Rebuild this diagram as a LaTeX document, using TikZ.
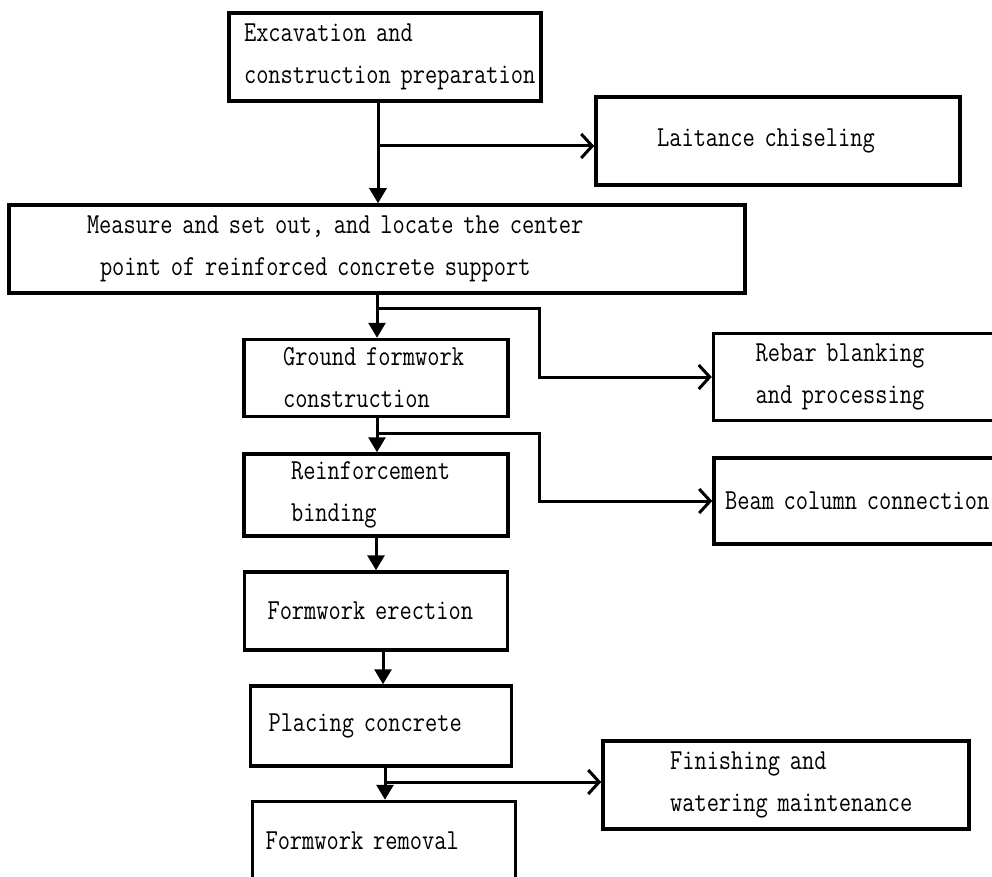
\documentclass[tikz,border=0pt]{standalone}
\usepackage{fontspec}
\newfontfamily\flowfont[FakeStretch=0.82]{Latin Modern Mono}
\usetikzlibrary{arrows.meta}
\newcommand{\flowline}[2]{\hspace*{#1pt}\mbox{#2}}

\begin{document}
\begin{tikzpicture}
[x=1pt,y=-1pt,
  boxDecorate/.style={draw,line width=3.5pt,rectangle,inner xsep=0pt,inner ysep=0pt,
    align=left,font=\flowfont\fontsize{29}{42}\selectfont},
  downDecorate/.style={line width=3pt,-{Triangle[length=15pt,width=17pt]}},
  sideDecorate/.style={line width=3pt,-{Straight Barb[length=11pt,width=24pt,line width=3pt]}}]
\useasboundingbox (0,0) rectangle (992,877);
%% boxes of the flow
\foreach \nodename/\x/\y/\w/\h/\txt in {
  exc/385/57/312/88/{\flowline{15}{Excavation and}\\\flowline{15}{construction preparation}},
  lai/778/141/364/88/{\flowline{61}{Laitance chiseling}},
  mea/377/249/736/88/{\flowline{78}{Measure and set out, and locate the center}\\\flowline{91}{point of reinforced concrete support}},
  gfc/376/378/264/77/{\flowline{39}{Ground formwork}\\\flowline{39}{construction}},
  reb/862/377/297/87/{\flowline{42}{Rebar blanking}\\\flowline{42}{and processing}},
  rei/376/495/264/82/{\flowline{47}{Reinforcement}\\\flowline{47}{binding}},
  bea/862/501/296/86/{\flowline{11}{Beam column connection}},
  fer/376/611/263/78/{\flowline{23}{Formwork erection}},
  pla/381/726/261/80/{\flowline{18}{Placing concrete}},
  fin/786/785/366/88/{\flowline{67}{Finishing and}\\\flowline{67}{watering maintenance}},
  rem/384/841/263/79/{\flowline{13}{Formwork removal}}}
{
  \node (\nodename) at (\x,\y) [boxDecorate,text width=\w pt,minimum height=\h pt] {\txt};
}
%% branch points
\coordinate (j1) at (378,146);
\coordinate (j2) at (377,308);
\coordinate (j3) at (377,433);
\coordinate (j4) at (385,782);
%% connectors
\draw[downDecorate] (exc.south -| j1) -- (mea.north -| j1);
\draw[sideDecorate] (j1) -- (j1 -| lai.west);
\draw[downDecorate] (mea.south -| j2) -- (gfc.north -| j2);
\draw[sideDecorate] (j2) -| ([xshift=-172pt]reb.west) -- (reb.west);
\draw[downDecorate] (gfc.south -| j3) -- (rei.north -| j3);
\draw[sideDecorate] (j3) -| ([xshift=-173pt]bea.west) -- (bea.west);
\draw[downDecorate] (rei.south) -- (rei.south |- fer.north);
\draw[downDecorate] ([xshift=7pt]fer.south) -- ([xshift=2pt]pla.north);
\draw[downDecorate] (pla.south -| j4) -- (rem.north -| j4);
\draw[sideDecorate] (j4) -- (j4 -| fin.west);
\end{tikzpicture}
\end{document}
